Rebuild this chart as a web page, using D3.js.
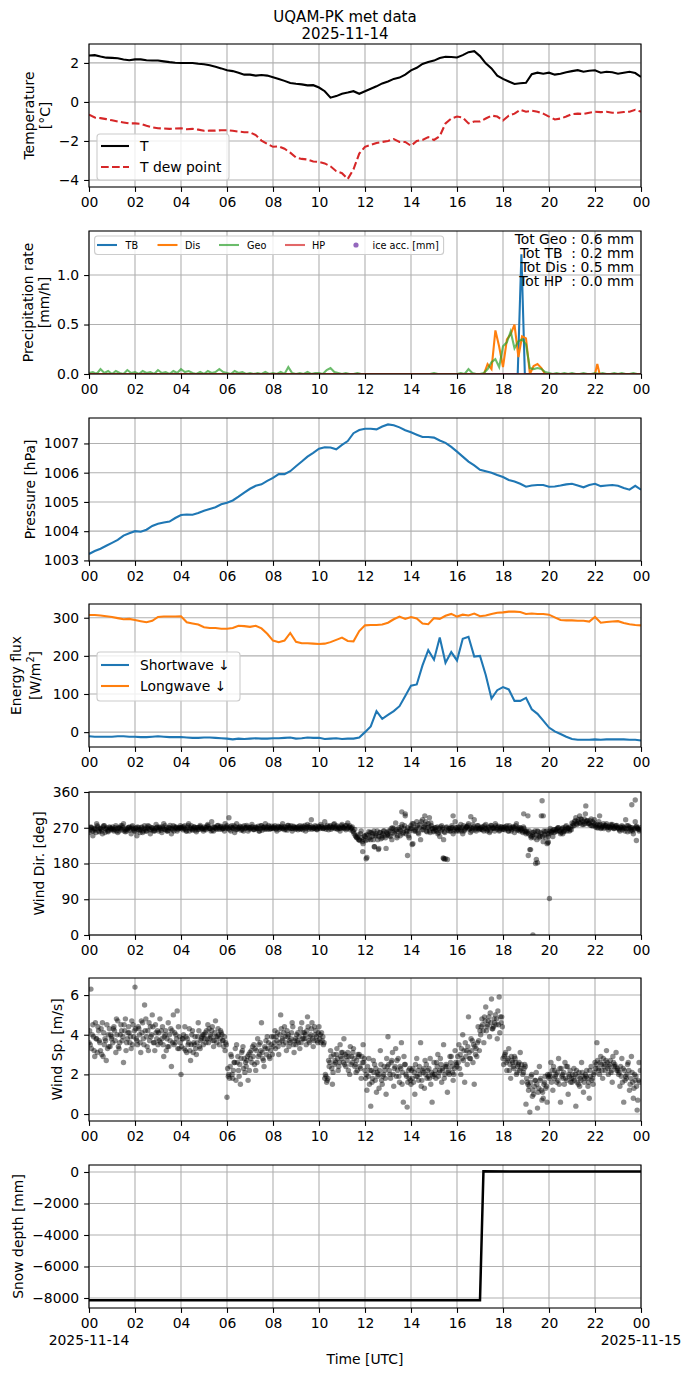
<!DOCTYPE html>
<html><head><meta charset="utf-8">
<script src="https://cdn.jsdelivr.net/npm/d3@7"></script>
<style>body{margin:0;background:#fff}svg{display:block}text{font-family:"DejaVu Sans",sans-serif}</style>
</head><body><div id="chart"></div>
<script>
// ---------------- DATA ----------------
const xTickHours = [0,2,4,6,8,10,12,14,16,18,20,22,24];
const xTickLabels = ["00","02","04","06","08","10","12","14","16","18","20","22","00"];
const dateLabels = ["2025-11-14","2025-11-15"];

// 15-minute series (hour = index/4)
const temperature = [2.38,2.40,2.33,2.27,2.26,2.24,2.18,2.14,2.18,2.18,2.14,2.12,2.12,2.08,2.04,2.01,
 2.00,2.00,2.00,1.96,1.93,1.88,1.80,1.72,1.62,1.58,1.50,1.40,1.40,1.35,1.38,1.35,
 1.27,1.18,1.08,0.97,0.93,0.90,0.85,0.86,0.74,0.55,0.22,0.30,0.42,0.48,0.55,0.42,
 0.55,0.68,0.80,0.95,1.05,1.18,1.25,1.40,1.62,1.75,1.95,2.05,2.12,2.25,2.32,2.30,
 2.28,2.40,2.55,2.60,2.35,1.98,1.72,1.35,1.18,1.05,0.92,0.96,0.98,1.42,1.50,1.45,
 1.50,1.40,1.45,1.52,1.58,1.63,1.55,1.60,1.62,1.50,1.55,1.52,1.45,1.50,1.55,1.48,1.28];
const dewPoint = [-0.65,-0.80,-0.83,-0.88,-0.94,-1.00,-1.05,-1.10,-1.10,-1.12,-1.22,-1.30,-1.35,-1.36,-1.38,-1.36,
 -1.35,-1.40,-1.38,-1.42,-1.48,-1.47,-1.47,-1.45,-1.45,-1.48,-1.52,-1.55,-1.56,-1.70,-1.98,-2.15,
 -2.30,-2.28,-2.40,-2.60,-2.85,-2.92,-2.95,-3.05,-3.08,-3.15,-3.30,-3.55,-3.65,-3.95,-3.45,-2.65,
 -2.30,-2.20,-2.10,-2.05,-2.00,-1.90,-2.05,-2.05,-2.25,-2.00,-1.95,-1.80,-1.95,-1.75,-1.10,-0.85,
 -0.75,-0.80,-1.10,-1.00,-1.00,-0.85,-0.70,-0.75,-0.95,-0.70,-0.60,-0.40,-0.50,-0.45,-0.50,-0.60,
 -0.75,-0.90,-0.85,-0.75,-0.62,-0.60,-0.62,-0.55,-0.50,-0.52,-0.50,-0.55,-0.55,-0.52,-0.50,-0.40,-0.50];
const pressure = [1003.22,1003.32,1003.40,1003.50,1003.60,1003.70,1003.85,1003.93,1004.00,1003.98,1004.05,1004.18,1004.25,1004.30,1004.33,1004.45,
 1004.55,1004.57,1004.56,1004.62,1004.70,1004.76,1004.82,1004.92,1004.97,1005.05,1005.18,1005.32,1005.45,1005.55,1005.60,1005.72,
 1005.82,1005.95,1005.95,1006.05,1006.22,1006.38,1006.55,1006.68,1006.82,1006.87,1006.86,1006.80,1006.95,1007.08,1007.35,1007.46,
 1007.50,1007.50,1007.48,1007.58,1007.65,1007.62,1007.55,1007.45,1007.38,1007.30,1007.22,1007.22,1007.20,1007.10,1007.02,1006.88,
 1006.72,1006.55,1006.38,1006.25,1006.10,1006.05,1006.00,1005.92,1005.85,1005.75,1005.70,1005.62,1005.52,1005.56,1005.58,1005.58,
 1005.52,1005.53,1005.56,1005.60,1005.62,1005.56,1005.50,1005.58,1005.62,1005.54,1005.56,1005.58,1005.55,1005.48,1005.42,1005.55,1005.42];
const shortwave = [-11,-12,-12,-12,-12,-11,-11,-12,-12,-13,-13,-12,-11,-12,-13,-13,
 -13,-14,-15,-15,-14,-14,-15,-16,-17,-19,-17,-18,-17,-16,-17,-17,
 -16,-16,-15,-14,-17,-16,-14,-15,-15,-18,-17,-16,-18,-17,-17,-14,
 0,15,55,35,45,55,68,95,122,125,175,215,190,248,182,210,
 188,245,250,198,200,150,88,110,118,112,82,82,90,60,48,30,
 12,2,-5,-12,-18,-20,-20,-20,-19,-20,-19,-19,-19,-19,-20,-20,-22];
const longwave = [307,307,306,304,302,299,296,297,294,291,288,292,302,303,303,303,
 304,288,285,282,275,273,273,271,271,273,279,278,276,279,272,258,
 240,236,240,260,237,233,233,232,231,232,236,242,248,239,238,265,
 280,281,281,282,287,296,303,297,302,298,285,283,299,297,305,310,
 303,308,306,311,304,306,310,313,314,316,316,315,310,311,310,310,
 308,301,294,293,293,292,292,290,302,287,289,290,291,286,283,281,280];

// precipitation [mm/h]
const geoRate = [ // 10-minute (hour = index/6)
 0.01,0.02,0.00,0.05,0.01,0.03, 0.00,0.03,0.01,0.00,0.04,0.01, 0.02,0.00,0.03,0.01,0.02,0.00,
 0.04,0.01,0.02,0.00,0.03,0.01, 0.05,0.02,0.03,0.01,0.00,0.02, 0.00,0.03,0.01,0.02,0.05,0.02,
 0.01,0.00,0.03,0.01,0.02,0.00, 0.01,0.00,0.01,0.00,0.02,0.00, 0.01,0.00,0.02,0.00,0.07,0.01,
 0.00,0.01,0.00,0.02,0.00,0.01, 0.01,0.00,0.04,0.06,0.02,0.01, 0.00,0.01,0.00,0.00,0.01,0.00,
 0.00,0.00,0.00,0.00,0.00,0.00, 0.00,0.00,0.00,0.00,0.00,0.00, 0.00,0.00,0.00,0.00,0.00,0.00,
 0.01,0.00,0.00,0.00,0.00,0.00, 0.00,0.01,0.00,0.05,0.01,0.00, 0.00,0.01,0.05,0.12,0.15,0.07,
 0.28,0.32,0.43,0.26,0.33,0.35, 0.30,0.06,0.05,0.06,0.05,0.02, 0.01,0.00,0.01,0.00,0.01,0.00,
 0.01,0.00,0.00,0.01,0.00,0.00, 0.01,0.00,0.01,0.00,0.00,0.01, 0.00,0.01,0.00,0.00,0.01,0.00, 0.00];
const tbHours = [0,18.64,18.80,18.95,24];
const tbRate  = [0,0,1.21,0,0];
const disHours = [0,17.17,17.33,17.5,17.67,17.83,18.0,18.17,18.33,18.5,18.67,18.83,19.0,19.17,19.33,19.5,19.67,19.83,22.0,22.1,22.2,24];
const disRate  = [0,0,0.10,0.05,0.44,0.28,0.07,0.35,0.40,0.50,0.17,0.38,0.36,0.0,0.08,0.10,0.06,0.0,0.0,0.10,0.0,0];
const hpHours = [0,24];
const hpRate  = [0,0];
const precipNames = ["TB","Dis","Geo","HP","ice acc. [mm]"];
const precipTotals = ["Tot Geo : 0.6 mm","Tot TB  : 0.2 mm","Tot Dis : 0.5 mm","Tot HP  : 0.0 mm"];

// wind: three samples per 5-minute slot (hour = index/12 + offset)
const windDirA = [
 258,272,250,265,280,262,268,255,275,266,260,270, 268,262,275,258,270,265,280,260,266,272,255,268,
 262,250,270,265,258,275,262,268,255,270,264,278, 266,272,258,280,265,262,270,255,275,268,262,270,
 270,265,275,262,280,268,264,272,260,270,276,266, 272,265,278,268,285,262,270,275,266,272,268,280,
 275,295,262,270,258,280,268,272,265,275,270,262, 270,278,265,272,268,262,275,270,280,266,272,268,
 268,275,262,272,270,280,265,270,276,268,262,272, 270,265,275,268,272,262,278,270,290,268,275,265,
 272,278,268,285,270,265,275,270,280,268,272,262, 278,270,265,282,275,268,260,250,245,240,262,230,
 248,195,260,240,255,222,250,215,258,245,262,218, 255,262,240,268,282,250,265,272,258,300,262,245,
 275,230,265,285,255,240,290,272,262,280,258,268, 262,270,255,248,275,240,192,190,262,270,255,285,
 270,262,278,255,265,272,280,258,268,290,262,275, 268,272,262,278,265,258,275,270,280,266,262,272,
 270,265,275,262,268,272,258,280,265,270,262,268, 255,300,215,248,258,180,262,245,300,235,260,230,
 255,260,248,265,262,270,255,268,262,275,270,265, 282,275,295,285,300,290,278,305,288,280,292,275,
 278,270,285,268,275,272,280,265,270,278,268,275, 270,262,275,268,290,260,272,265,255,285,270,262];
const windDirB = [
 265,270,262,268,275,260,266,272,258,270,264,268, 272,266,262,270,268,275,262,268,270,264,272,266,
 268,272,264,270,262,266,270,274,265,268,262,270, 262,268,272,266,270,264,276,268,262,272,266,270,
 268,272,266,270,262,275,268,264,270,266,272,268, 266,270,274,268,264,272,268,276,270,266,272,268,
 270,265,275,268,272,266,270,264,272,268,276,270, 268,272,266,270,274,268,264,272,268,270,266,274,
 272,268,270,266,274,268,272,264,270,275,268,270, 268,272,266,274,270,268,272,276,266,270,272,268,
 270,274,268,272,276,270,266,272,268,275,270,268, 272,268,276,270,265,272,255,248,252,238,245,240,
 238,252,245,258,240,250,262,248,242,255,250,258, 262,248,270,255,265,260,250,278,268,255,270,262,
 268,280,262,275,270,285,265,278,260,272,282,268, 270,262,258,272,266,260,270,264,268,275,262,270,
 265,270,262,275,268,272,266,270,278,265,270,268, 270,265,275,268,272,262,270,268,275,270,264,272,
 266,272,268,275,262,270,268,264,270,265,258,262, 262,255,250,258,245,252,260,248,255,262,245,255,
 262,258,265,260,268,262,258,270,265,262,268,272, 275,285,280,290,282,278,292,285,280,288,275,282,
 272,278,275,270,280,276,270,274,278,272,270,276, 268,272,265,270,268,275,262,270,266,272,268,265];
const windDirC = [
 270,262,268,258,272,268,262,275,268,262,272,265, 265,270,268,262,275,270,265,262,270,268,275,262,
 270,265,258,272,268,262,275,265,270,262,268,272, 270,264,268,275,262,270,268,265,272,270,268,275,
 272,268,262,275,270,266,272,270,265,272,268,262, 270,275,268,262,272,270,266,270,274,268,262,272,
 268,272,270,275,265,270,274,268,262,270,272,266, 272,266,270,268,262,275,270,266,272,276,268,270,
 270,266,274,270,268,272,266,276,272,268,274,266, 272,268,270,265,276,272,266,270,272,268,266,274,
 268,272,270,266,272,274,270,278,272,266,268,275, 270,275,268,272,270,262,266,245,240,255,235,250,
 252,240,258,248,262,255,240,258,250,262,245,252, 250,268,258,262,245,270,262,255,275,262,250,268,
 280,262,270,258,278,265,272,285,270,262,275,260, 265,272,268,262,270,258,272,268,262,270,266,262,
 272,266,270,262,272,276,268,262,272,268,275,265, 266,272,268,262,270,276,268,262,270,274,268,266,
 272,268,262,270,266,272,275,268,262,268,272,260, 258,262,245,252,262,240,250,258,248,252,262,248,
 268,262,258,265,270,262,266,260,272,268,262,265, 280,288,278,282,292,285,280,288,282,276,285,290,
 275,270,278,272,268,276,272,270,275,268,274,270, 265,270,272,262,275,268,270,262,268,274,266,270];
const windDirExtraHours = [11.9,12.05,12.4,12.6,13.6,13.75,13.85,14.05,14.6,14.8,15.42,15.45,15.40,15.83,19.1,19.2,19.3,19.45,19.5,19.7,19.75,19.95,19.97,20.02,21.6,23.6,23.75,23.8,22.2,20.6,16.6,18.9];
const windDirExtra      = [210,192,222,218,310,305,200,228,300,295,193,191,194,300,200,215,0,190,182,338,300,232,234,92,325,328,340,238,300,255,298,305];

const windSpeedA = [
 3.6,6.3,4.5,2.9,3.8,4.2,3.2,4.6,3.5,2.7,4.0,3.4, 3.9,4.4,3.1,4.7,3.6,4.2,2.6,4.8,3.8,4.1,3.3,4.5,
 6.4,3.7,4.3,3.1,4.6,5.5,3.9,3.2,4.4,5.0,3.6,4.1, 3.5,4.8,3.8,2.9,4.2,3.4,4.0,2.4,5.0,3.6,5.2,3.3,
 2.0,3.8,4.4,3.1,3.6,2.7,4.2,3.5,3.0,4.6,3.3,3.9, 4.0,3.6,4.5,3.8,4.2,3.4,4.7,3.9,3.5,4.1,3.7,3.2,
 0.85,2.0,3.0,1.8,2.6,3.5,2.2,1.5,3.2,2.8,2.4,1.7, 3.1,2.6,3.5,2.2,3.8,3.0,4.6,2.7,3.3,3.9,2.9,3.5,
 3.4,4.2,3.7,3.0,5.0,3.8,4.4,3.2,4.0,3.6,4.6,3.1, 3.5,4.1,3.3,4.6,3.8,4.0,4.9,3.6,4.3,3.4,4.0,3.7,
 4.4,3.6,3.9,1.8,1.6,2.7,3.2,1.5,2.5,3.0,2.2,3.5, 2.8,3.8,2.4,3.1,2.0,2.9,3.3,2.5,2.2,3.0,1.8,3.5,
 2.2,1.2,2.8,0.4,1.8,2.5,1.1,2.0,3.2,1.5,2.4,1.0, 3.9,2.0,2.7,1.4,3.3,2.2,1.6,3.6,0.6,2.5,0.35,1.8,
 1.5,2.3,1.0,2.8,1.7,3.6,2.2,1.3,2.5,1.9,2.8,0.6, 2.6,1.8,3.0,2.2,1.6,3.5,2.4,1.1,2.0,2.9,1.7,3.2,
 2.4,3.5,2.0,4.0,1.6,3.2,4.9,2.8,3.7,1.5,3.3,4.4, 4.2,4.8,3.6,5.4,4.5,3.9,5.8,4.4,5.0,3.8,5.9,4.6,
 2.8,3.0,2.2,3.3,1.8,2.6,2.9,2.0,2.5,3.1,1.6,2.3, 0.5,1.5,0.1,2.0,1.0,1.7,0.3,2.4,1.2,0.8,1.9,0.6,
 1.8,2.6,1.2,2.2,1.6,2.8,0.6,2.0,1.5,2.4,1.0,2.2, 1.6,2.3,0.4,1.9,1.4,2.6,1.1,2.0,1.8,0.8,2.4,1.5,
 2.6,3.6,2.2,2.9,1.8,2.5,3.2,2.0,2.7,1.6,2.4,3.1, 2.2,1.4,2.8,0.6,1.9,2.5,1.2,2.9,0.8,1.7,0.2,2.6];
const windSpeedB = [
 4.2,3.3,3.9,4.6,3.1,3.7,4.3,2.9,3.8,4.5,3.4,4.0, 3.6,4.2,4.8,3.4,4.0,3.7,4.5,3.2,4.1,3.6,4.7,3.9,
 4.3,3.5,4.0,4.7,3.8,4.2,3.4,4.6,3.9,4.4,3.2,3.8, 4.1,3.6,4.4,3.9,3.2,4.6,3.7,4.2,3.5,4.0,3.3,3.9,
 3.4,4.0,3.2,3.8,4.3,3.5,3.1,3.9,3.6,4.2,3.7,4.0, 3.8,4.2,3.6,4.0,4.4,3.7,3.9,4.3,3.8,4.0,3.4,3.6,
 2.3,1.8,2.9,2.2,3.3,2.6,1.9,2.8,3.4,2.1,2.7,3.0, 2.8,3.4,2.5,3.2,2.9,3.6,3.1,2.4,3.7,3.3,2.8,3.9,
 3.9,3.3,4.1,3.6,4.3,3.5,3.9,4.2,3.4,3.8,4.4,3.7, 4.0,3.6,4.3,3.8,4.1,3.5,4.4,3.9,4.6,3.7,4.2,3.6,
 3.8,4.1,3.5,2.0,1.7,2.4,2.9,2.1,2.7,3.3,2.4,2.9, 3.1,2.5,2.9,2.2,3.4,2.6,2.8,2.1,3.0,2.4,2.9,2.6,
 1.8,2.4,1.5,2.2,2.7,1.7,2.1,1.3,2.5,1.9,2.2,2.8, 2.5,1.8,3.1,2.3,1.9,2.8,2.4,1.5,2.9,2.0,1.6,2.3,
 2.2,1.6,2.5,1.9,2.4,1.4,2.1,2.7,1.8,2.3,1.5,2.0, 2.0,2.6,1.9,2.8,2.3,1.8,2.5,2.1,2.9,2.4,2.0,2.6,
 2.9,2.3,3.3,2.7,3.6,2.5,3.1,3.8,2.6,3.4,2.9,3.7, 4.0,4.5,4.9,4.2,4.7,5.1,4.3,4.8,4.5,5.2,4.1,4.9,
 2.5,3.1,2.7,2.2,2.9,2.4,2.8,2.1,2.6,2.3,2.0,2.5, 1.8,1.2,1.6,0.9,1.4,2.1,1.1,1.7,0.7,1.5,1.3,2.0,
 2.0,1.6,2.4,1.9,2.1,1.5,2.3,1.8,2.6,1.7,2.0,1.6, 2.0,1.7,2.2,1.5,1.8,2.1,1.6,1.9,1.4,2.2,1.7,2.0,
 2.3,2.7,2.0,2.5,2.8,2.2,2.6,2.4,2.1,2.9,2.5,2.2, 2.0,2.4,1.6,2.2,1.8,2.6,1.5,2.1,1.3,1.9,0.7,1.6];
const windSpeedC = [
 3.5,4.0,3.2,3.8,4.4,3.6,3.0,4.1,3.7,3.3,4.3,3.8, 4.3,3.7,4.0,3.3,4.5,3.9,4.2,3.6,4.4,3.9,3.5,4.2,
 3.8,4.4,3.6,4.1,3.5,4.8,4.2,3.7,4.0,3.6,4.5,4.2, 3.7,4.2,3.5,4.0,3.8,3.4,4.3,3.6,4.1,3.8,4.4,3.6,
 3.8,3.3,3.9,3.5,3.2,4.0,3.6,3.3,3.9,3.4,3.8,3.5, 4.1,3.8,4.3,3.9,3.7,4.1,3.6,4.0,4.2,3.7,3.9,3.5,
 1.9,2.4,2.0,2.6,1.7,2.9,2.5,3.1,2.3,2.6,2.9,2.2, 3.2,2.9,3.3,2.6,3.5,3.2,2.8,3.4,3.0,3.6,3.2,3.0,
 3.6,3.9,3.4,4.0,3.7,4.1,3.6,3.9,3.7,4.1,3.5,3.8, 3.7,3.9,3.6,4.1,3.8,4.2,3.7,4.0,3.8,4.4,3.9,4.1,
 4.0,3.7,3.6,1.9,1.8,2.6,2.3,3.0,2.6,2.8,2.6,3.1, 2.6,3.0,2.7,2.9,2.5,3.1,2.4,2.7,2.9,2.3,2.6,2.8,
 2.0,1.9,2.2,1.6,2.1,2.3,1.9,2.2,1.7,2.0,1.8,2.4, 2.2,2.6,2.0,2.4,2.7,1.9,2.3,2.1,2.5,1.9,2.2,1.7,
 1.8,2.1,1.9,2.2,2.0,1.7,2.3,2.0,2.2,1.8,2.1,1.9, 2.2,2.4,2.1,2.5,2.2,2.0,2.4,2.2,2.6,2.1,2.3,2.5,
 2.6,3.0,2.8,3.2,2.9,3.4,2.8,3.2,3.5,3.0,3.6,3.2, 4.4,4.2,4.7,4.4,4.9,4.6,4.3,4.6,4.8,4.5,4.9,4.4,
 2.9,2.6,2.8,2.5,2.7,2.3,2.6,2.4,2.2,2.5,2.1,2.4, 1.6,1.4,1.9,1.2,1.7,1.5,1.3,1.8,1.1,1.6,1.4,1.9,
 1.9,2.2,1.8,2.0,1.7,2.3,1.9,2.1,1.8,2.4,1.9,1.8, 1.8,2.0,1.6,2.1,1.7,1.9,1.8,2.2,1.6,1.9,1.8,2.1,
 2.5,2.3,2.6,2.2,2.4,2.7,2.3,2.5,2.2,2.6,2.4,2.3, 2.1,1.9,2.3,1.7,2.0,2.2,1.8,1.6,2.0,1.4,1.7,2.2];

const snowHours = [0,17.0,17.15,24];
const snowDepth = [-8150,-8150,40,30];

// ---------------- LAYOUT ----------------
const W=690,H=1377,L=89,R=641,PH=143;
const tops=[44,231,418,604,792,978,1165];
const FS=13.9, TICK=4.9, GRID="#b0b0b0";
const svg=d3.select("#chart").append("svg").attr("width",W).attr("height",H);
const x=d3.scaleLinear().domain([0,24]).range([L,R]);

svg.append("text").attr("x",345).attr("y",17).attr("text-anchor","middle").attr("dominant-baseline","central").style("font-size","15px").text("UQAM-PK met data");
svg.append("text").attr("x",345).attr("y",33.5).attr("text-anchor","middle").attr("dominant-baseline","central").style("font-size","15px").text("2025-11-14");

function panel(i, dom, ticks, fmt, lines, lx){
  const top=tops[i], bot=top+PH;
  const y=d3.scaleLinear().domain(dom).range([bot,top]);
  const g=svg.append("g");
  g.selectAll(".gx").data(xTickHours).join("line").attr("x1",d=>x(d)).attr("x2",d=>x(d)).attr("y1",top).attr("y2",bot).attr("stroke",GRID).attr("stroke-width",1.1);
  g.selectAll(".gy").data(ticks).join("line").attr("class","gy").attr("x1",L).attr("x2",R).attr("y1",d=>y(d)).attr("y2",d=>y(d)).attr("stroke",GRID).attr("stroke-width",1.1);
  const cid="clip"+i;
  svg.append("clipPath").attr("id",cid).append("rect").attr("x",L).attr("y",top).attr("width",R-L).attr("height",PH);
  const data=svg.append("g").attr("clip-path",`url(#${cid})`);
  const ax=svg.append("g").attr("transform",`translate(0,${bot})`).call(d3.axisBottom(x).tickValues(xTickHours).tickFormat((d,k)=>xTickLabels[k]).tickSize(TICK).tickPadding(4.9));
  const ay=svg.append("g").attr("transform",`translate(${L},0)`).call(d3.axisLeft(y).tickValues(ticks).tickFormat(fmt).tickSize(TICK).tickPadding(4.9));
  [ax,ay].forEach(a=>{a.select(".domain").remove();a.selectAll("line").attr("stroke","#000").attr("stroke-width",1.1);
    a.selectAll("text").style("font-size",FS+"px").style("font-family","DejaVu Sans").attr("fill","#000");});
  svg.append("rect").attr("x",L).attr("y",top).attr("width",R-L).attr("height",PH).attr("fill","none").attr("stroke","#000").attr("stroke-width",1.1);
  const cy=top+PH/2;
  lines.forEach((t,k)=>{
    const tx=svg.append("text").attr("transform",`translate(${lx[k]},${cy}) rotate(-90)`).attr("text-anchor","middle").attr("dominant-baseline","central").style("font-size",FS+"px");
    if(Array.isArray(t)){tx.append("tspan").text(t[0]);tx.append("tspan").attr("dy",-5).style("font-size","9.7px").text(t[1]);tx.append("tspan").attr("dy",5).text(t[2]);}
    else tx.text(t);
  });
  return {y,data,top,bot,g};
}
function legendBox(x0,y0,w,h){
  svg.append("rect").attr("x",x0).attr("y",y0).attr("width",w).attr("height",h).attr("rx",3).attr("fill","#fff").attr("fill-opacity",0.8).attr("stroke","#cccccc").attr("stroke-width",1.1);
}
const q=(arr)=>arr.map((v,k)=>[k/4,v]);
function scatter(p, arrays, extraH, extraV){
  let pts=[];
  arrays.forEach((arr,j)=>{ arr.forEach((v,k)=>pts.push([k/12+j/36,v])); });
  if(extraH) extraH.forEach((h,k)=>pts.push([h,extraV[k]]));
  p.data.selectAll("circle").data(pts).join("circle").attr("cx",d=>x(d[0])).attr("cy",d=>p.y(d[1])).attr("r",2.7).attr("fill","#000").attr("fill-opacity",0.45);
}

// Panel 1 Temperature
{
  const p=panel(0,[-4.36,2.97],[-4,-2,0,2],d3.format("d"),["Temperature","[°C]"],[29,45]);
  const ln=d3.line().x(d=>x(d[0])).y(d=>p.y(d[1]));
  p.data.append("path").attr("d",ln(q(temperature))).attr("fill","none").attr("stroke","#000").attr("stroke-width",2.08);
  p.data.append("path").attr("d",ln(q(dewPoint))).attr("fill","none").attr("stroke","#d62728").attr("stroke-width",2.08).attr("stroke-dasharray","7.7,3.3");
  legendBox(97,134,132,46);
  svg.append("line").attr("x1",101).attr("x2",129).attr("y1",146).attr("y2",146).attr("stroke","#000").attr("stroke-width",2.08);
  svg.append("line").attr("x1",101).attr("x2",129).attr("y1",167).attr("y2",167).attr("stroke","#d62728").attr("stroke-width",2.08).attr("stroke-dasharray","7.7,3.3");
  svg.append("text").attr("x",140).attr("y",146).attr("dominant-baseline","central").style("font-size",FS+"px").text("T");
  svg.append("text").attr("x",140).attr("y",167).attr("dominant-baseline","central").style("font-size",FS+"px").text("T dew point");
}
// Panel 2 Precip
{
  const p=panel(1,[0,1.445],[0,0.5,1.0],d3.format(".1f"),["Precipitation rate","[mm/h]"],[28,44]);
  const ln=d3.line().x(d=>x(d[0])).y(d=>p.y(d[1]));
  const z=(h,v)=>h.map((t,k)=>[t,v[k]]);
  p.data.append("path").attr("d",ln(z(tbHours,tbRate))).attr("fill","none").attr("stroke","#1f77b4").attr("stroke-width",2.08);
  p.data.append("path").attr("d",ln(z(disHours,disRate))).attr("fill","none").attr("stroke","#ff7f0e").attr("stroke-width",2.08);
  p.data.append("path").attr("d",ln(geoRate.map((v,k)=>[k/6,v]))).attr("fill","none").attr("stroke","#2ca02c").attr("stroke-opacity",0.7).attr("stroke-width",2.08);
  p.data.append("path").attr("d",ln(z(hpHours,hpRate))).attr("fill","none").attr("stroke","#d62728").attr("stroke-opacity",0.7).attr("stroke-width",2.08);
  legendBox(94.6,236,349,18.5);
  const cols=["#1f77b4","#ff7f0e","#2ca02c","#d62728"], lx=[96,156.5,218,284], txx=[125.5,185,247,312];
  cols.forEach((c,k)=>{
    svg.append("line").attr("x1",lx[k]+1).attr("x2",lx[k]+21).attr("y1",245).attr("y2",245).attr("stroke",c).attr("stroke-opacity",k>=2?0.7:1).attr("stroke-width",2.08);
    svg.append("text").attr("x",txx[k]).attr("y",245).attr("dominant-baseline","central").style("font-size","9.7px").text(precipNames[k]);
  });
  svg.append("circle").attr("cx",356).attr("cy",245).attr("r",2.6).attr("fill","#9467bd");
  svg.append("text").attr("x",372.5).attr("y",245).attr("dominant-baseline","central").style("font-size","9.7px").text(precipNames[4]);
  precipTotals.forEach((t,k)=>{
    svg.append("text").attr("x",634).attr("y",239+k*14).attr("text-anchor","end").attr("dominant-baseline","central").style("font-size",FS+"px").style("white-space","pre").text(t);
  });
}
// Panel 3 Pressure
{
  const p=panel(2,[1002.98,1007.87],[1003,1004,1005,1006,1007],d3.format("d"),["Pressure [hPa]"],[30]);
  const ln=d3.line().x(d=>x(d[0])).y(d=>p.y(d[1]));
  p.data.append("path").attr("d",ln(q(pressure))).attr("fill","none").attr("stroke","#1f77b4").attr("stroke-width",2.08);
}
// Panel 4 Energy flux
{
  const p=panel(3,[-39,336],[0,100,200,300],d3.format("d"),["Energy flux",["[W/m","2","]"]],[16,35]);
  const ln=d3.line().x(d=>x(d[0])).y(d=>p.y(d[1]));
  p.data.append("path").attr("d",ln(q(shortwave))).attr("fill","none").attr("stroke","#1f77b4").attr("stroke-width",2.08);
  p.data.append("path").attr("d",ln(q(longwave))).attr("fill","none").attr("stroke","#ff7f0e").attr("stroke-width",2.08);
  legendBox(97,652,143,49);
  svg.append("line").attr("x1",101).attr("x2",129).attr("y1",665).attr("y2",665).attr("stroke","#1f77b4").attr("stroke-width",2.08);
  svg.append("line").attr("x1",101).attr("x2",129).attr("y1",686).attr("y2",686).attr("stroke","#ff7f0e").attr("stroke-width",2.08);
  svg.append("text").attr("x",140).attr("y",665).attr("dominant-baseline","central").style("font-size",FS+"px").text("Shortwave ↓");
  svg.append("text").attr("x",140).attr("y",686).attr("dominant-baseline","central").style("font-size",FS+"px").text("Longwave ↓");
}
// Panel 5 Wind dir
{
  const p=panel(4,[0,360],[0,90,180,270,360],d3.format("d"),["Wind Dir. [deg]"],[39]);
  scatter(p,[windDirA,windDirB,windDirC],windDirExtraHours,windDirExtra);
}
// Panel 6 Wind speed
{
  const p=panel(5,[-0.35,6.86],[0,2,4,6],d3.format("d"),["Wind Sp. [m/s]"],[57]);
  scatter(p,[windSpeedA,windSpeedB,windSpeedC]);
}
// Panel 7 Snow depth
{
  const p=panel(6,[-8635,444],[-8000,-6000,-4000,-2000,0],d3.format("d"),["Snow depth [mm]"],[17.5]);
  const ln=d3.line().x(d=>x(d[0])).y(d=>p.y(d[1]));
  p.data.append("path").attr("d",ln(snowHours.map((h,k)=>[h,snowDepth[k]]))).attr("fill","none").attr("stroke","#000").attr("stroke-width",2.5);
  svg.append("text").attr("x",x(0)).attr("y",p.bot+32).attr("text-anchor","middle").attr("dominant-baseline","central").style("font-size",FS+"px").text(dateLabels[0]);
  svg.append("text").attr("x",x(24)).attr("y",p.bot+32).attr("text-anchor","middle").attr("dominant-baseline","central").style("font-size",FS+"px").text(dateLabels[1]);
  svg.append("text").attr("x",(L+R)/2).attr("y",1359).attr("text-anchor","middle").attr("dominant-baseline","central").style("font-size",FS+"px").text("Time [UTC]");
}
</script></body></html>
